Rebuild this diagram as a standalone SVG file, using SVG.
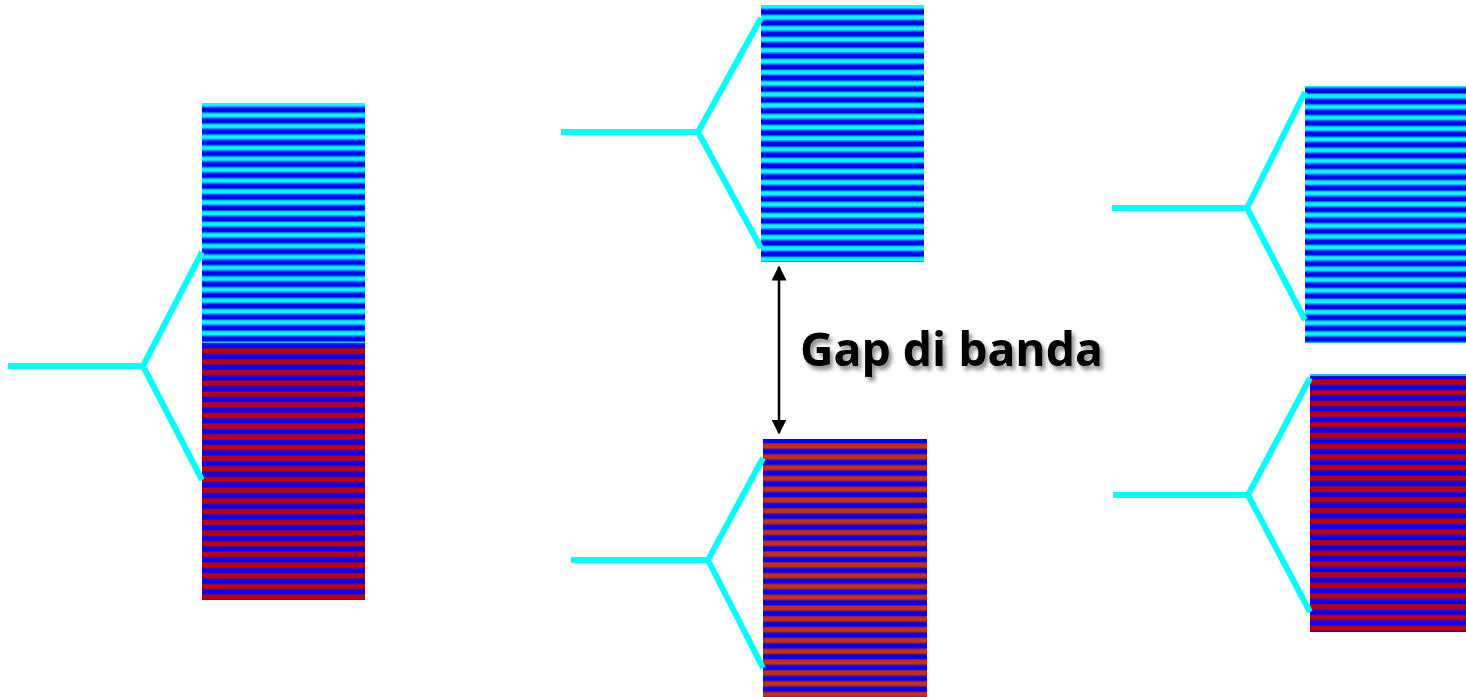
<svg xmlns="http://www.w3.org/2000/svg" width="1466" height="697" viewBox="0 0 1466 697">
  <style>
    .lead { fill: none; stroke: #00ffff; stroke-width: 6; stroke-linejoin: miter; }
    .label { font-family: "Open Sans", "DejaVu Sans", sans-serif; font-weight: bold; font-size: 46px; fill: #000; }
  </style>
  <defs>
    <!-- conduction-band stripes: cyan / blue -->
    <linearGradient id="gBlue" x1="0" y1="0" x2="0" y2="1">
      <stop offset="0" stop-color="#00ffff"/>
      <stop offset="0.22" stop-color="#00ffff"/>
      <stop offset="0.36" stop-color="#0080ff"/>
      <stop offset="0.5" stop-color="#0000ff"/>
      <stop offset="0.66" stop-color="#0000e0"/>
      <stop offset="0.8" stop-color="#0000ff"/>
      <stop offset="0.9" stop-color="#0090ff"/>
      <stop offset="1" stop-color="#00ffff"/>
    </linearGradient>
    <!-- valence-band stripes: red / blue -->
    <linearGradient id="gRed" x1="0" y1="0" x2="0" y2="1">
      <stop offset="0" stop-color="#c00000"/>
      <stop offset="0.34" stop-color="#c00000"/>
      <stop offset="0.46" stop-color="#600080"/>
      <stop offset="0.56" stop-color="#0000ff"/>
      <stop offset="0.88" stop-color="#0000ff"/>
      <stop offset="1" stop-color="#c00000"/>
    </linearGradient>
    <linearGradient id="gOrange" x1="0" y1="0" x2="0" y2="1">
      <stop offset="0" stop-color="#c83000"/>
      <stop offset="0.34" stop-color="#c83000"/>
      <stop offset="0.46" stop-color="#601880"/>
      <stop offset="0.56" stop-color="#0000ff"/>
      <stop offset="0.88" stop-color="#0000ff"/>
      <stop offset="1" stop-color="#c83000"/>
    </linearGradient>
    <pattern id="pBlueL" patternUnits="userSpaceOnUse" x="0" y="103" width="20" height="10.9">
      <rect width="20" height="10.9" fill="url(#gBlue)"/>
    </pattern>
    <pattern id="pRedL" patternUnits="userSpaceOnUse" x="0" y="349" width="20" height="10.7">
      <rect width="20" height="10.7" fill="url(#gRed)"/>
    </pattern>
    <pattern id="pBlueM" patternUnits="userSpaceOnUse" x="0" y="5" width="20" height="11">
      <rect width="20" height="11" fill="url(#gBlue)"/>
    </pattern>
    <pattern id="pOrangeM" patternUnits="userSpaceOnUse" x="0" y="444" width="20" height="10.8">
      <rect width="20" height="10.8" fill="url(#gOrange)"/>
    </pattern>
    <pattern id="pBlueR" patternUnits="userSpaceOnUse" x="0" y="84" width="20" height="10.8">
      <rect width="20" height="10.8" fill="url(#gBlue)"/>
    </pattern>
    <pattern id="pRedR" patternUnits="userSpaceOnUse" x="0" y="380" width="20" height="10.7">
      <rect width="20" height="10.7" fill="url(#gRed)"/>
    </pattern>
    <marker id="arrow" viewBox="0 0 10 10" refX="9" refY="5" markerWidth="6" markerHeight="6" orient="auto-start-reverse">
      <path d="M0,0 L10,5 L0,10 Z" fill="#000"/>
    </marker>
    <filter id="shadow" x="-10%" y="-30%" width="130%" height="160%">
      <feDropShadow dx="3" dy="4" stdDeviation="2.2" flood-color="#000" flood-opacity="0.45"/>
    </filter>
  </defs>

  <!-- metal: overlapping bands -->
  <g id="metal">
    <rect x="202" y="103" width="163" height="242" fill="url(#pBlueL)"/>
    <rect x="202" y="343" width="163" height="257" fill="url(#pRedL)"/>
  </g>

  <!-- semiconductor / insulator: separated bands -->
  <g id="conduction-mid">
    <rect x="761" y="5" width="163" height="257" fill="url(#pBlueM)"/>
  </g>
  <g id="valence-mid">
    <rect x="763" y="439" width="164" height="258" fill="url(#pOrangeM)"/>
  </g>

  <g id="conduction-right">
    <rect x="1305" y="86" width="161" height="257" fill="url(#pBlueR)"/>
  </g>
  <g id="valence-right">
    <rect x="1310" y="374" width="156" height="258" fill="url(#pRedR)"/>
    <line x1="1310" y1="375" x2="1466" y2="375" stroke="#00ffff" stroke-width="1.5"/>
  </g>

  <!-- level-splitting connectors -->
  <g id="connectors">
    <path class="lead" d="M8,366 H143 L202,252 M143,366 L202,480"/>
    <path class="lead" d="M561,132 H698 L761,18 M698,132 L761,248"/>
    <path class="lead" d="M571,560 H708 L763,458 M708,560 L763,668"/>
    <path class="lead" d="M1112,208 H1247 L1305,92 M1247,208 L1305,320"/>
    <path class="lead" d="M1113,495 H1248 L1310,378 M1248,495 L1310,612"/>
    <line x1="779" y1="267" x2="779" y2="433" stroke="#000" stroke-width="2.5" marker-start="url(#arrow)" marker-end="url(#arrow)"/>
  </g>

  <g id="gap-label">
    <text class="label" x="800" y="366" textLength="303" lengthAdjust="spacingAndGlyphs" filter="url(#shadow)">Gap di banda</text>
  </g>
</svg>
